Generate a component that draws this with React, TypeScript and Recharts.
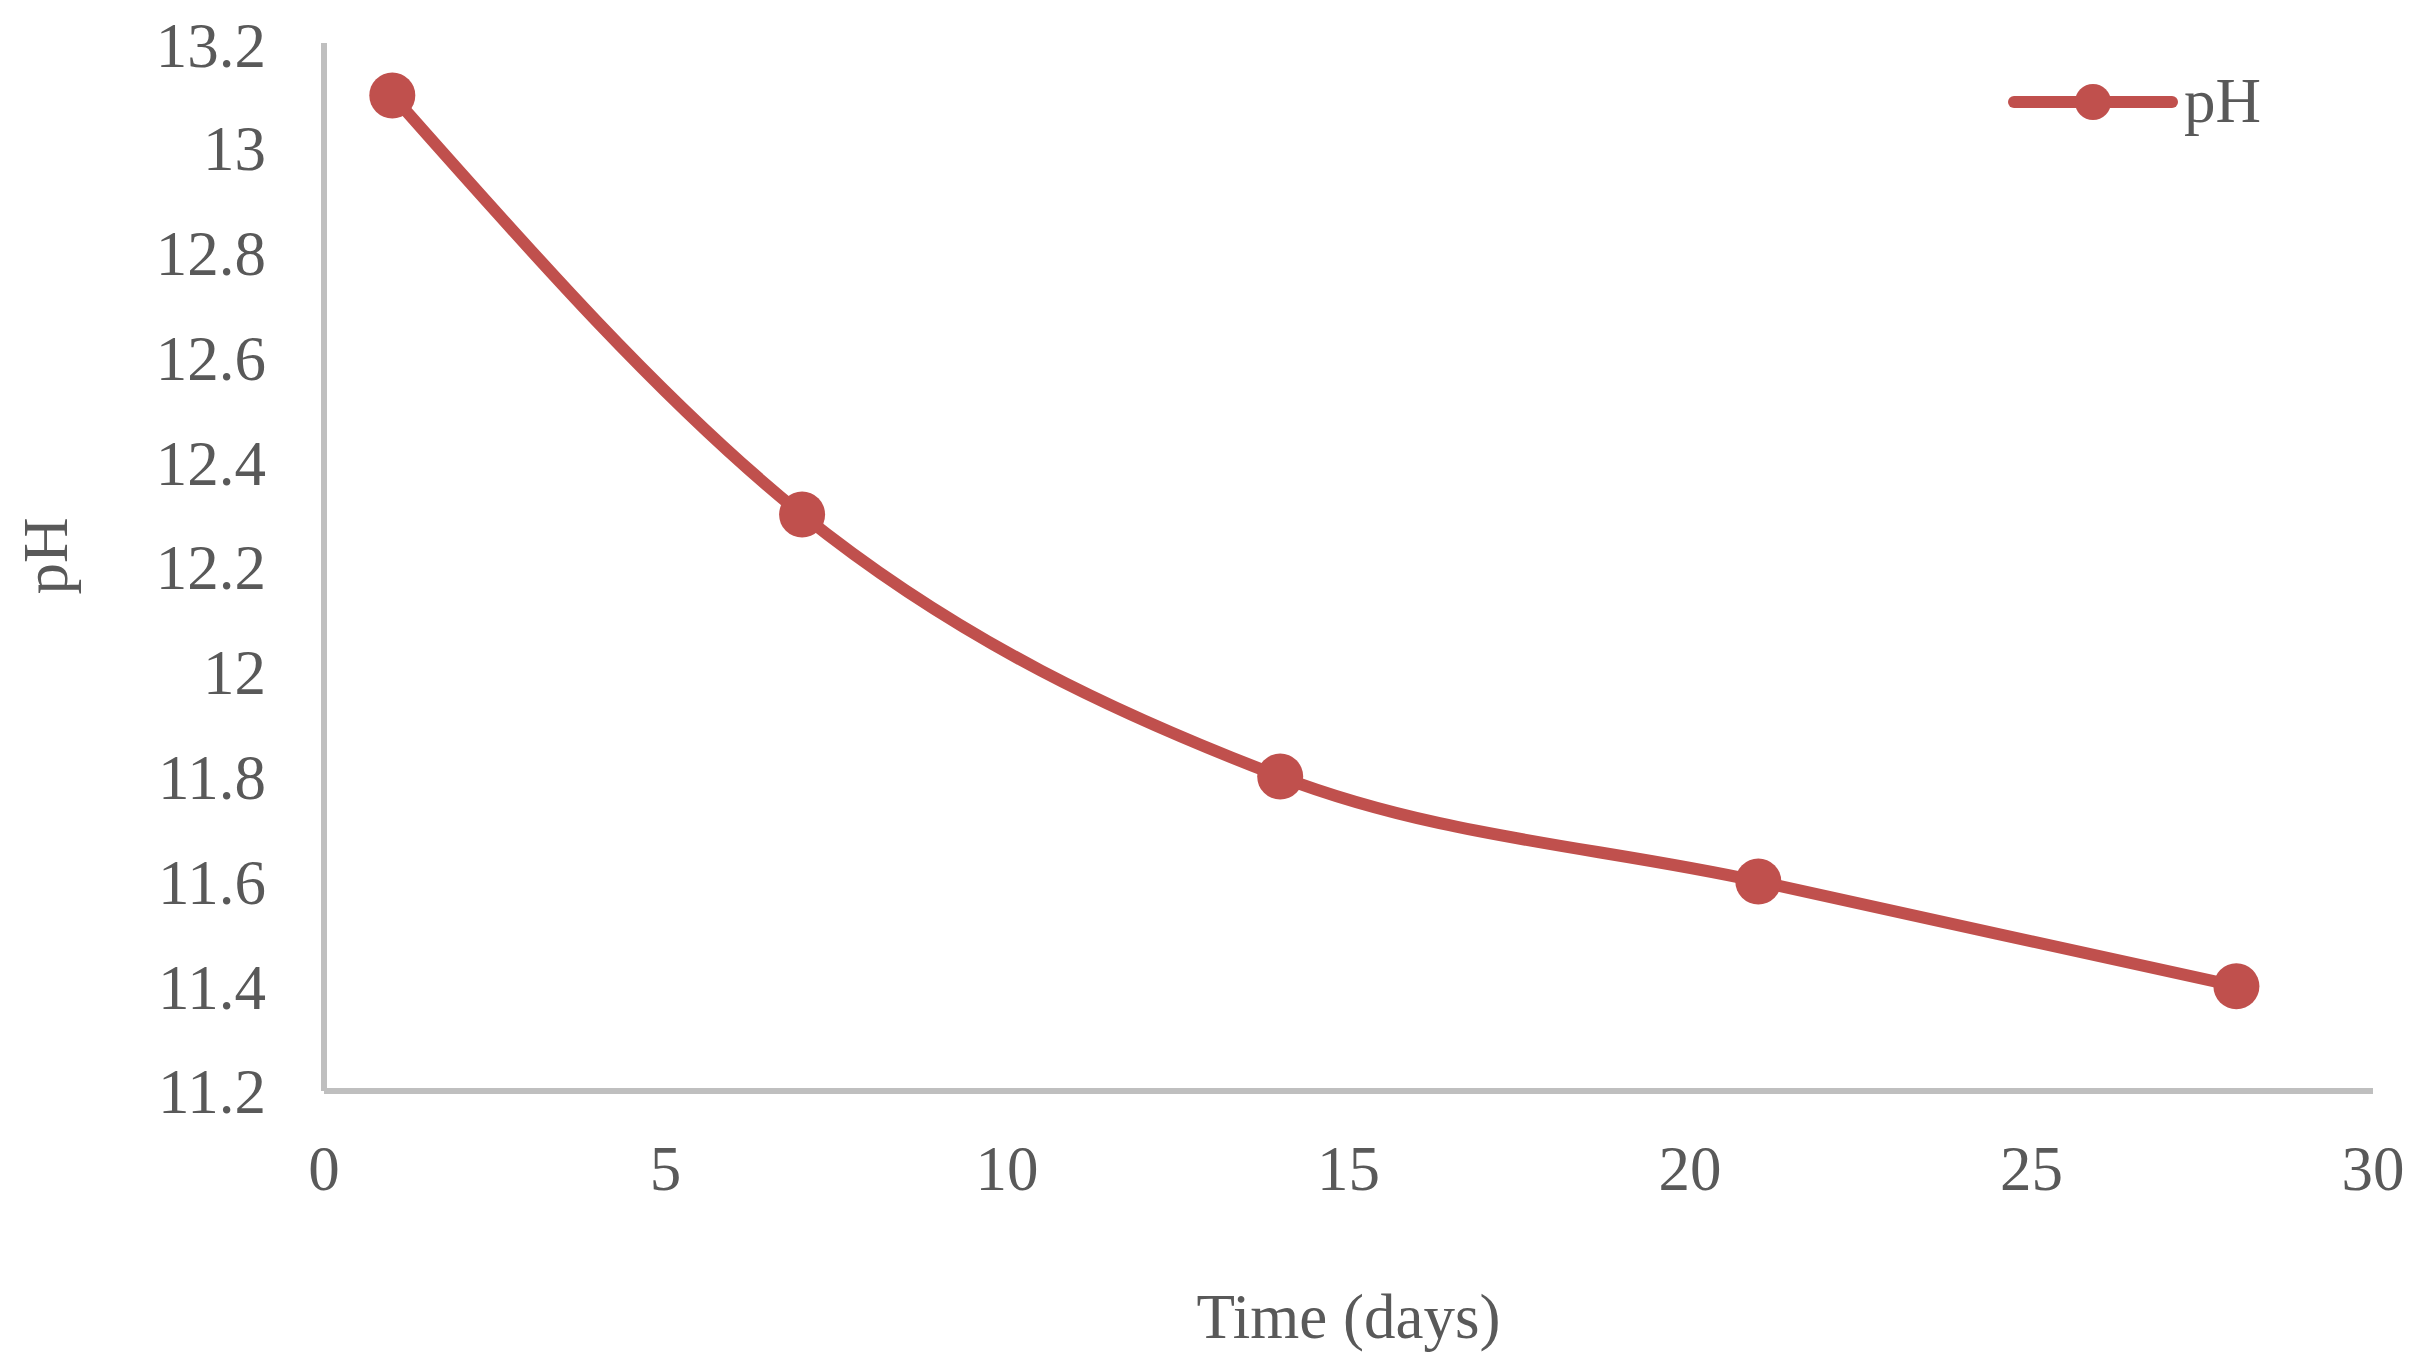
import { LineChart, Line, XAxis, YAxis, Label } from "recharts";

// measured days and pH readings
const days = [1, 7, 14, 21, 28];
const phValues = [13.1, 12.3, 11.8, 11.6, 11.4];
const xTicks = [0, 5, 10, 15, 20, 25, 30];
const yTicks = [11.2, 11.4, 11.6, 11.8, 12, 12.2, 12.4, 12.6, 12.8, 13, 13.2];

const LINE_COLOR = "#C0504D";
const AXIS_COLOR = "#BFBFBF";
const TEXT_COLOR = "#595959";
const FONT = "'Liberation Serif', 'Times New Roman', serif";

const chartData = days.map((d, i) => ({ day: d, pH: phValues[i] }));

const LegendBox = () => (
    <div
        style={{
            position: "absolute",
            top: 62,
            left: 2000,
            display: "flex",
            alignItems: "center",
            fontFamily: FONT,
            fontSize: 63,
            color: TEXT_COLOR,
        }}
    >
        <svg width={170} height={50}>
            <line x1={6} y1={25} x2={164} y2={25} stroke={LINE_COLOR} strokeWidth={12} strokeLinecap="round" />
            <circle cx={85} cy={25} r={18} fill={LINE_COLOR} />
        </svg>
        <span style={{ marginLeft: 6, lineHeight: 1 }}>pH</span>
    </div>
);

const App = () => {
    return (
        <div style={{ position: "relative", width: 2405, height: 1352 }}>
            <LineChart
                width={2405}
                height={1352}
                data={chartData}
                margin={{ top: 35, right: 40, bottom: 0, left: 0 }}
                style={{ fontFamily: FONT }}
            >
                <XAxis
                    dataKey="day"
                    type="number"
                    domain={[0, 30]}
                    ticks={xTicks}
                    height={269}
                    stroke={AXIS_COLOR}
                    strokeWidth={6}
                    tickLine={false}
                    tickSize={0}
                    tickMargin={54}
                    tick={{ fill: TEXT_COLOR, fontSize: 63, fontFamily: FONT }}
                >
                    <Label
                        value="Time (days)"
                        position="insideBottom"
                        offset={22}
                        style={{ fill: TEXT_COLOR, fontSize: 63, fontFamily: FONT }}
                    />
                </XAxis>
                <YAxis
                    type="number"
                    domain={[11.2, 13.2]}
                    ticks={yTicks}
                    width={316}
                    stroke={AXIS_COLOR}
                    strokeWidth={6}
                    tickLine={false}
                    tickSize={0}
                    tickMargin={58}
                    tick={{ fill: TEXT_COLOR, fontSize: 63, fontFamily: FONT }}
                >
                    <Label
                        content={({ viewBox }: any) => (
                            <text
                                x={viewBox.x + 38}
                                y={viewBox.y + viewBox.height / 2 - 11}
                                transform={`rotate(-90, ${viewBox.x + 38}, ${viewBox.y + viewBox.height / 2 - 11})`}
                                textAnchor="middle"
                                dominantBaseline="central"
                                fill={TEXT_COLOR}
                                fontSize={63}
                                fontFamily={FONT}
                            >
                                pH
                            </text>
                        )}
                    />
                </YAxis>
                <Line
                    type="monotone"
                    dataKey="pH"
                    stroke={LINE_COLOR}
                    strokeWidth={12}
                    dot={{ r: 23, fill: LINE_COLOR, stroke: "none" }}
                    activeDot={false}
                    isAnimationActive={false}
                />
            </LineChart>
            <LegendBox />
        </div>
    );
};

export default App;
